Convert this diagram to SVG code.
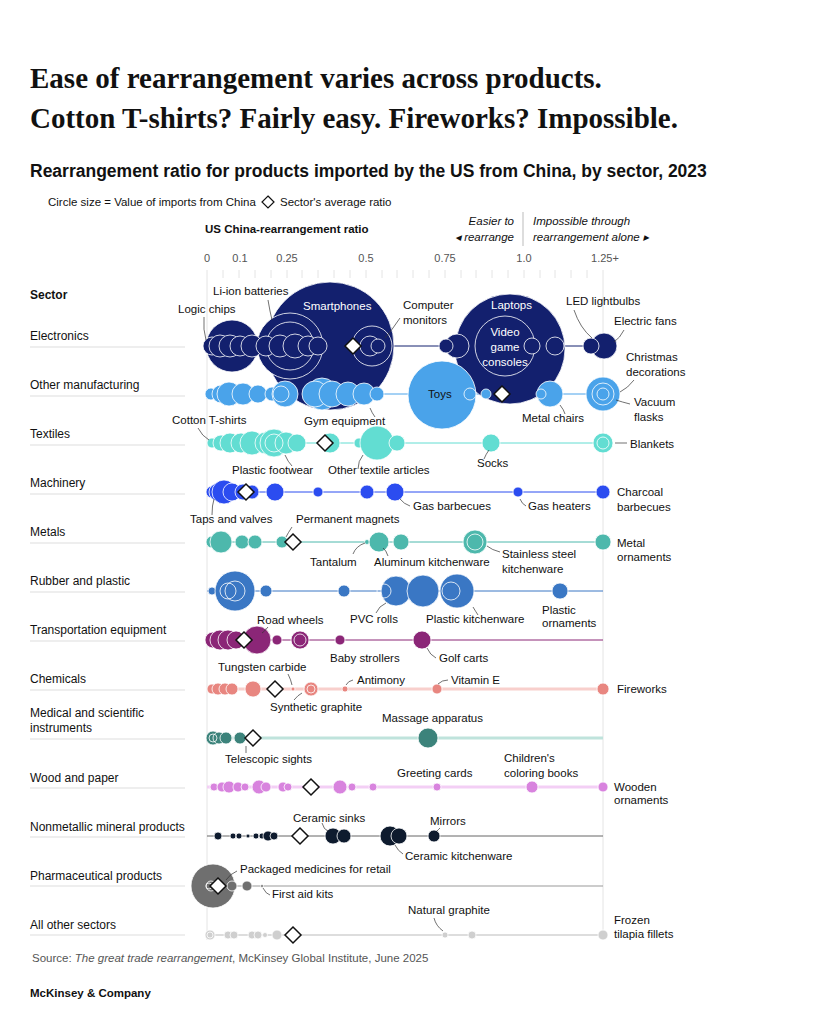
<svg xmlns="http://www.w3.org/2000/svg" width="819" height="1024" viewBox="0 0 819 1024">
<style>
text{font-family:"Liberation Sans",Arial,sans-serif;fill:#111;font-size:11.5px}
.t{font-family:"Liberation Serif","Times New Roman",serif;font-weight:bold;font-size:29px}
.s{font-weight:bold;font-size:17.5px}
.sec{font-size:12px}
.ax{font-size:11px;fill:#555}
.i{font-style:italic;font-size:11.5px}
.ld{stroke:#333;stroke-width:0.7;fill:none}
circle{stroke:#fff;stroke-width:0.8}
.sep{stroke:#ddd;stroke-width:1}
.d{fill:#fff;stroke:#111;stroke-width:1.5}
.e{fill:#13206e}.o{fill:#4aa3ea}.tx{fill:#62ddd2}.m{fill:#2b4cf0}.me{fill:#4db8ac}.r{fill:#3a77c4}.tr{fill:#8b2677}.c{fill:#e88680}.md{fill:#3c837b}.w{fill:#d883de}.n{fill:#0e1b2e}.p{fill:#6f6f6f}.a{fill:#cfcfcf}
.ring{fill:none;stroke:#fff;stroke-width:0.8}
</style>
<rect width="819" height="1024" fill="#fff"/>
<text class="t" x="30" y="88">Ease of rearrangement varies across products.</text>
<text class="t" x="30" y="128">Cotton T-shirts? Fairly easy. Fireworks? Impossible.</text>
<text class="s" x="30" y="177">Rearrangement ratio for products imported by the US from China, by sector, 2023</text>
<circle cx="37" cy="202" r="6" fill="none" stroke="#555" stroke-dasharray="1.5 1.5"/>
<text x="48" y="206" font-size="11">Circle size = Value of imports from China</text>
<polygon points="268,196 274,202 268,208 262,202" class="d" style="stroke-width:1.2"/>
<text x="280" y="206" font-size="11">Sector's average ratio</text>
<text x="205" y="233" font-weight="bold" font-size="12">US China-rearrangement ratio</text>
<text class="i" x="514" y="225" text-anchor="end">Easier to</text>
<text class="i" x="514" y="241" text-anchor="end">◂ rearrange</text>
<line x1="523" y1="212" x2="523" y2="246" stroke="#bbb"/>
<text class="i" x="533" y="225">Impossible through</text>
<text class="i" x="533" y="241">rearrangement alone ▸</text>
<g class="ax">
<text x="207" y="262" text-anchor="middle" class="ax">0</text>
<text x="240" y="262" text-anchor="middle" class="ax">0.1</text>
<text x="287" y="262" text-anchor="middle" class="ax">0.25</text>
<text x="366" y="262" text-anchor="middle" class="ax">0.5</text>
<text x="445" y="262" text-anchor="middle" class="ax">0.75</text>
<text x="524" y="262" text-anchor="middle" class="ax">1.0</text>
<text x="605" y="262" text-anchor="middle" class="ax">1.25+</text>
</g>
<g stroke="#ddd" stroke-width="0.8">
<line x1="207" y1="270" x2="207" y2="940"/><line x1="603" y1="270" x2="603" y2="940"/>
<path d="M223 270v8M239 270v8M255 270v8M271 270v8M287 270v8M302 270v8M318 270v8M334 270v8M350 270v8M366 270v8M382 270v8M397 270v8M413 270v8M429 270v8M445 270v8M461 270v8M476 270v8M492 270v8M508 270v8M524 270v8M540 270v8M555 270v8M571 270v8M587 270v8"/>
</g>
<g id="sectors">
<text x="30" y="299" font-weight="bold" class="sec">Sector</text>
<text x="30" y="340" class="sec">Electronics</text><line class="sep" x1="30" y1="347" x2="185" y2="347"/>
<text x="30" y="389" class="sec">Other manufacturing</text><line class="sep" x1="30" y1="396" x2="185" y2="396"/>
<text x="30" y="438" class="sec">Textiles</text><line class="sep" x1="30" y1="445" x2="185" y2="445"/>
<text x="30" y="487" class="sec">Machinery</text><line class="sep" x1="30" y1="494" x2="185" y2="494"/>
<text x="30" y="536" class="sec">Metals</text><line class="sep" x1="30" y1="543" x2="185" y2="543"/>
<text x="30" y="585" class="sec">Rubber and plastic</text><line class="sep" x1="30" y1="592" x2="185" y2="592"/>
<text x="30" y="634" class="sec">Transportation equipment</text><line class="sep" x1="30" y1="641" x2="185" y2="641"/>
<text x="30" y="683" class="sec">Chemicals</text><line class="sep" x1="30" y1="690" x2="185" y2="690"/>
<text x="30" y="717" class="sec">Medical and scientific</text>
<text x="30" y="732" class="sec">instruments</text><line class="sep" x1="30" y1="739" x2="185" y2="739"/>
<text x="30" y="782" class="sec">Wood and paper</text><line class="sep" x1="30" y1="788" x2="185" y2="788"/>
<text x="30" y="831" class="sec">Nonmetallic mineral products</text><line class="sep" x1="30" y1="837" x2="185" y2="837"/>
<text x="30" y="880" class="sec">Pharmaceutical products</text><line class="sep" x1="30" y1="886" x2="185" y2="886"/>
<text x="30" y="929" class="sec">All other sectors</text><line class="sep" x1="30" y1="935" x2="185" y2="935"/>
</g>
<g id="connectors">
<line x1="207" y1="346" x2="603" y2="346" stroke="#13206e"/>
<line x1="207" y1="394" x2="603" y2="394" stroke="#4aa3ea"/>
<line x1="207" y1="443" x2="603" y2="443" stroke="#62ddd2"/>
<line x1="207" y1="492" x2="603" y2="492" stroke="#2b4cf0"/>
<line x1="207" y1="542" x2="603" y2="542" stroke="#4db8ac"/>
<line x1="207" y1="591" x2="603" y2="591" stroke="#3a77c4"/>
<line x1="207" y1="640" x2="603" y2="640" stroke="#8b2677"/>
<line x1="207" y1="689" x2="603" y2="689" stroke="#f8cfcc" stroke-width="3"/>
<line x1="207" y1="738" x2="603" y2="738" stroke="#bfe3dc" stroke-width="3"/>
<line x1="207" y1="787" x2="603" y2="787" stroke="#f3cff5" stroke-width="3"/>
<line x1="207" y1="836" x2="603" y2="836" stroke="#666"/>
<line x1="207" y1="886" x2="603" y2="886" stroke="#999"/>
<line x1="207" y1="935" x2="603" y2="935" stroke="#ddd" stroke-width="2"/>
</g>
<g id="electronics">
<circle class="e" cx="330" cy="346" r="64"/>
<circle class="e" cx="510" cy="349" r="55"/>
<circle class="e" cx="290" cy="346" r="33"/>
<circle class="e" cx="232" cy="346" r="26"/>
<circle class="ring" cx="290" cy="346" r="24"/>
<circle class="ring" cx="372" cy="346" r="20"/>
<circle class="ring" cx="505" cy="346" r="30"/>
<circle class="e" cx="212" cy="346" r="9"/>
<circle class="e" cx="220" cy="346" r="11"/>
<circle class="e" cx="230" cy="346" r="11"/>
<circle class="e" cx="240" cy="346" r="10"/>
<circle class="e" cx="252" cy="346" r="11"/>
<circle class="e" cx="266" cy="346" r="10"/>
<circle class="e" cx="280" cy="346" r="11"/>
<circle class="e" cx="295" cy="346" r="12"/>
<circle class="e" cx="308" cy="346" r="10"/>
<circle class="e" cx="318" cy="346" r="9"/>
<circle class="e" cx="370" cy="346" r="10"/>
<circle class="e" cx="378" cy="346" r="7"/>
<circle class="e" cx="457" cy="346" r="12"/>
<circle class="e" cx="446" cy="346" r="7"/>
<circle class="e" cx="532" cy="346" r="8"/>
<circle class="e" cx="555" cy="346" r="9"/>
<circle class="e" cx="604" cy="346" r="13"/>
<circle class="e" cx="591" cy="346" r="8"/>
<polygon class="d" points="353,338 361,346 353,354 345,346"/>
<text x="178" y="313">Logic chips</text><path class="ld" d="M204 317 Q 203 330 206 340"/>
<text x="213" y="295">Li-ion batteries</text><path class="ld" d="M268 300 Q 270 312 272 320"/>
<text x="303" y="310" fill="#fff" style="fill:#fff">Smartphones</text>
<text x="403" y="309">Computer</text><text x="403" y="324">monitors</text><path class="ld" d="M400 318 Q 392 330 385 338"/>
<text x="491" y="309" style="fill:#fff">Laptops</text>
<text x="505" y="336" text-anchor="middle" style="fill:#fff">Video</text>
<text x="505" y="351" text-anchor="middle" style="fill:#fff">game</text>
<text x="505" y="366" text-anchor="middle" style="fill:#fff">consoles</text>
<text x="566" y="305">LED lightbulbs</text><path class="ld" d="M574 310 Q 580 328 592 338"/>
<text x="614" y="325">Electric fans</text><path class="ld" d="M624 330 Q 620 338 614 342"/>
</g>
<g id="other-manufacturing">
<circle class="o" cx="442" cy="395" r="34"/>
<circle class="o" cx="211" cy="394" r="6"/>
<circle class="o" cx="221" cy="394" r="9"/>
<circle class="o" cx="229" cy="394" r="12"/>
<circle class="o" cx="243" cy="394" r="11"/>
<circle class="o" cx="258" cy="394" r="9"/>
<circle class="o" cx="272" cy="394" r="7"/>
<circle class="o" cx="285" cy="394" r="13"/>
<circle class="o" cx="281" cy="394" r="8"/>
<circle class="o" cx="322" cy="394" r="16"/>
<circle class="o" cx="315" cy="394" r="13"/>
<circle class="o" cx="332" cy="394" r="13"/>
<circle class="o" cx="348" cy="394" r="12"/>
<circle class="o" cx="364" cy="394" r="11"/>
<circle class="o" cx="377" cy="394" r="7"/>
<circle class="o" cx="470" cy="394" r="6"/>
<circle class="o" cx="486" cy="394" r="5"/>
<circle class="o" cx="550" cy="394" r="13"/>
<circle class="o" cx="541" cy="394" r="5"/>
<circle class="o" cx="603" cy="394" r="17"/>
<circle class="ring" cx="603" cy="394" r="11"/><circle class="ring" cx="603" cy="394" r="6"/>
<polygon class="d" points="502,386 510,394 502,402 494,394"/>
<text x="428" y="398">Toys</text>
<text x="304" y="425">Gym equipment</text><path class="ld" d="M370 408 Q 372 413 375 417"/>
<text x="522" y="422">Metal chairs</text><path class="ld" d="M560 405 Q 564 410 565 414"/>
<text x="626" y="361">Christmas</text><text x="626" y="376">decorations</text><path class="ld" d="M634 380 Q 628 388 620 392"/>
<text x="634" y="406">Vacuum</text><text x="634" y="421">flasks</text><path class="ld" d="M630 404 Q 622 402 616 400"/>
</g>
<g id="textiles">
<circle class="tx" cx="212" cy="443" r="5"/>
<circle class="tx" cx="221" cy="443" r="8"/>
<circle class="tx" cx="230" cy="443" r="10"/>
<circle class="tx" cx="241" cy="443" r="10"/>
<circle class="tx" cx="252" cy="443" r="12"/>
<circle class="tx" cx="266" cy="443" r="11"/>
<circle class="tx" cx="274" cy="443" r="14"/>
<circle class="tx" cx="286" cy="443" r="11"/>
<circle class="tx" cx="297" cy="443" r="9"/>
<circle class="tx" cx="330" cy="443" r="10"/>
<circle class="tx" cx="359" cy="443" r="5"/>
<circle class="tx" cx="377" cy="443" r="17"/>
<circle class="tx" cx="397" cy="443" r="8"/>
<circle class="tx" cx="491" cy="443" r="9"/>
<circle class="tx" cx="603" cy="443" r="10"/>
<circle class="ring" cx="603" cy="443" r="6"/><circle class="ring" cx="274" cy="443" r="9"/>
<polygon class="d" points="325,435 333,443 325,451 317,443"/>
<text x="172" y="424">Cotton T-shirts</text><path class="ld" d="M198 428 Q 202 436 209 440"/>
<text x="232" y="474">Plastic footwear</text><path class="ld" d="M285 455 Q 288 462 292 466"/>
<text x="328" y="474">Other textile articles</text><path class="ld" d="M358 469 Q 358 461 363 455"/>
<text x="477" y="467">Socks</text><path class="ld" d="M484 459 Q 486 454 489 450"/>
<text x="630" y="448">Blankets</text><line class="ld" x1="615" y1="443" x2="627" y2="443"/>
</g>
<g id="machinery">
<circle class="m" cx="212" cy="492" r="6"/>
<circle class="m" cx="218" cy="492" r="9"/>
<circle class="m" cx="224" cy="492" r="12"/>
<circle class="m" cx="232" cy="492" r="9"/>
<circle class="m" cx="243" cy="492" r="8"/>
<circle class="m" cx="252" cy="492" r="7"/>
<circle class="m" cx="275" cy="492" r="9"/>
<circle class="m" cx="318" cy="492" r="5"/>
<circle class="m" cx="367" cy="492" r="7"/>
<circle class="m" cx="395" cy="492" r="9"/>
<circle class="m" cx="518" cy="492" r="5"/>
<circle class="m" cx="603" cy="492" r="7"/>
<polygon class="d" points="246,484 254,492 246,500 238,492"/>
<text x="413" y="510">Gas barbecues</text><path class="ld" d="M400 499 Q 404 504 410 506"/>
<text x="528" y="510">Gas heaters</text><path class="ld" d="M520 499 Q 522 504 526 506"/>
<text x="617" y="496">Charcoal</text><text x="617" y="511">barbecues</text>
<text x="190" y="523">Taps and valves</text><path class="ld" d="M212 515 Q 212 505 214 499"/>
</g>
<g id="metals">
<circle class="me" cx="212" cy="542" r="6"/>
<circle class="me" cx="221" cy="542" r="11"/>
<circle class="me" cx="242" cy="542" r="7"/>
<circle class="me" cx="255" cy="542" r="7"/>
<circle class="me" cx="282" cy="542" r="6"/>
<circle class="me" cx="367" cy="542" r="2.5"/>
<circle class="me" cx="379" cy="542" r="10"/>
<circle class="me" cx="401" cy="542" r="8"/>
<circle class="me" cx="475" cy="542" r="12"/>
<circle class="ring" cx="475" cy="542" r="8"/>
<circle class="me" cx="603" cy="542" r="8"/>
<polygon class="d" points="293,534 301,542 293,550 285,542"/>
<text x="296" y="523">Permanent magnets</text><path class="ld" d="M292 527 Q 288 533 286 537"/>
<text x="310" y="566">Tantalum</text><path class="ld" d="M353 554 Q 356 546 365 543"/>
<text x="374" y="566">Aluminum kitchenware</text><path class="ld" d="M388 556 Q 386 550 383 548"/>
<text x="502" y="558">Stainless steel</text><text x="502" y="573">kitchenware</text><path class="ld" d="M487 546 Q 492 550 500 552"/>
<text x="617" y="547">Metal</text><text x="617" y="561">ornaments</text>
</g>
<g id="rubber-and-plastic">
<circle class="r" cx="212" cy="591" r="4"/>
<circle class="r" cx="222" cy="591" r="6"/>
<circle class="r" cx="235" cy="591" r="20"/>
<circle class="ring" cx="228" cy="591" r="8"/><circle class="ring" cx="235" cy="591" r="10"/>
<circle class="r" cx="266" cy="591" r="6"/>
<circle class="r" cx="344" cy="591" r="6"/>
<circle class="r" cx="396" cy="591" r="15"/>
<circle class="ring" cx="384" cy="591" r="7"/>
<circle class="r" cx="423" cy="591" r="16"/>
<circle class="r" cx="457" cy="591" r="17"/>
<circle class="ring" cx="451" cy="591" r="9"/>
<circle class="r" cx="560" cy="591" r="8"/>
<text x="350" y="623">PVC rolls</text><path class="ld" d="M376 613 Q 379 606 386 603"/>
<text x="426" y="623">Plastic kitchenware</text><path class="ld" d="M473 607 Q 476 612 478 615"/>
<text x="542" y="614">Plastic</text><text x="542" y="627">ornaments</text>
</g>
<g id="transportation-equipment">
<circle class="tr" cx="213" cy="640" r="8"/>
<circle class="tr" cx="220" cy="640" r="10"/>
<circle class="tr" cx="228" cy="640" r="10"/>
<circle class="tr" cx="236" cy="640" r="9"/>
<circle class="tr" cx="257" cy="640" r="14"/>
<circle class="tr" cx="277" cy="640" r="5"/>
<circle class="tr" cx="300" cy="640" r="9"/>
<circle class="ring" cx="300" cy="640" r="6"/>
<circle class="tr" cx="340" cy="640" r="5"/>
<circle class="tr" cx="422" cy="640" r="9"/>
<polygon class="d" points="244,632 252,640 244,648 236,640"/>
<text x="257" y="624">Road wheels</text><path class="ld" d="M268 627 Q 264 632 262 633"/>
<text x="330" y="662">Baby strollers</text>
<text x="439" y="662">Golf carts</text><path class="ld" d="M427 648 Q 430 655 436 658"/>
</g>
<g id="chemicals">
<circle class="c" cx="212" cy="689" r="5"/>
<circle class="c" cx="218" cy="689" r="6"/>
<circle class="c" cx="225" cy="689" r="6"/>
<circle class="c" cx="232" cy="689" r="6"/>
<circle class="c" cx="253" cy="689" r="8"/>
<circle class="c" cx="293" cy="689" r="2"/>
<circle class="c" cx="311" cy="689" r="7"/>
<circle class="ring" cx="311" cy="689" r="4"/>
<circle class="c" cx="345" cy="689" r="3"/>
<circle class="c" cx="437" cy="689" r="5"/>
<circle class="c" cx="603" cy="689" r="6"/>
<polygon class="d" points="275,681 283,689 275,697 267,689"/>
<text x="218" y="671">Tungsten carbide</text><path class="ld" d="M288 674 Q 291 680 292 685"/>
<text x="270" y="711">Synthetic graphite</text><path class="ld" d="M294 700 Q 298 695 302 693"/>
<text x="357" y="684">Antimony</text><path class="ld" d="M346 685 Q 348 681 353 680"/>
<text x="451" y="684">Vitamin E</text><path class="ld" d="M438 684 Q 442 680 448 680"/>
<text x="617" y="693">Fireworks</text>
</g>
<g id="medical">
<circle class="md" cx="213" cy="738" r="7"/>
<circle class="md" cx="219" cy="738" r="6"/>
<circle class="md" cx="226" cy="738" r="6"/>
<circle class="md" cx="240" cy="738" r="6"/>
<circle class="ring" cx="213" cy="738" r="4"/>
<circle class="md" cx="428" cy="738" r="10"/>
<polygon class="d" points="253,730 261,738 253,746 245,738"/>
<text x="382" y="722">Massage apparatus</text>
<text x="225" y="763">Telescopic sights</text><line class="ld" x1="246" y1="746" x2="246" y2="753"/>
</g>
<g id="wood-and-paper">
<circle class="w" cx="214" cy="787" r="4"/>
<circle class="w" cx="222" cy="787" r="5"/>
<circle class="w" cx="229" cy="787" r="6"/>
<circle class="w" cx="238" cy="787" r="5"/>
<circle class="w" cx="245" cy="787" r="4"/>
<circle class="w" cx="259" cy="787" r="7"/>
<circle class="w" cx="266" cy="787" r="5"/>
<circle class="w" cx="283" cy="787" r="5"/>
<circle class="w" cx="288" cy="787" r="4"/>
<circle class="w" cx="340" cy="787" r="7"/>
<circle class="w" cx="352" cy="787" r="4"/>
<circle class="w" cx="373" cy="787" r="4"/>
<circle class="w" cx="437" cy="787" r="4"/>
<circle class="w" cx="532" cy="787" r="6"/>
<circle class="w" cx="603" cy="787" r="5"/>
<polygon class="d" points="311,779 319,787 311,795 303,787"/>
<text x="397" y="777">Greeting cards</text>
<text x="504" y="762">Children's</text><text x="504" y="777">coloring books</text>
<text x="614" y="791">Wooden</text><text x="614" y="804">ornaments</text>
</g>
<g id="nonmetallic">
<circle class="n" cx="218" cy="836" r="4"/>
<circle class="n" cx="233" cy="836" r="3"/>
<circle class="n" cx="239" cy="836" r="3"/>
<circle class="n" cx="248" cy="836" r="2"/>
<circle class="n" cx="256" cy="836" r="3"/>
<circle class="n" cx="262" cy="836" r="3"/>
<circle class="n" cx="268" cy="836" r="5"/>
<circle class="n" cx="274" cy="836" r="4"/>
<circle class="n" cx="333" cy="836" r="8"/>
<circle class="n" cx="344" cy="836" r="7"/>
<circle class="n" cx="390" cy="836" r="10"/>
<circle class="n" cx="399" cy="836" r="8"/>
<circle class="n" cx="434" cy="836" r="6"/>
<polygon class="d" points="300,828 308,836 300,844 292,836"/>
<text x="293" y="822">Ceramic sinks</text><path class="ld" d="M322 823 Q 324 830 328 831"/>
<text x="430" y="825">Mirrors</text><path class="ld" d="M440 828 Q 438 830 437 831"/>
<text x="405" y="860">Ceramic kitchenware</text><path class="ld" d="M395 845 Q 398 851 403 854"/>
</g>
<g id="pharmaceutical">
<circle class="p" cx="213" cy="886" r="22"/>
<circle class="ring" cx="211" cy="886" r="5"/><circle class="ring" cx="209" cy="886" r="3"/>
<circle class="p" cx="232" cy="886" r="5"/>
<circle class="p" cx="247" cy="886" r="5"/>
<circle class="p" cx="262" cy="886" r="1.5"/>
<polygon class="d" points="218,878 226,886 218,894 210,886"/>
<text x="240" y="873">Packaged medicines for retail</text><path class="ld" d="M226 880 Q 230 874 237 871"/>
<text x="272" y="898">First aid kits</text><path class="ld" d="M263 888 Q 266 894 270 895"/>
</g>
<g id="all-other">
<circle class="a" cx="210" cy="935" r="5"/>
<circle class="ring" cx="210" cy="935" r="3"/>
<circle class="a" cx="228" cy="935" r="4"/>
<circle class="a" cx="234" cy="935" r="4"/>
<circle class="a" cx="252" cy="935" r="4"/>
<circle class="a" cx="258" cy="935" r="4"/>
<circle class="a" cx="265" cy="935" r="2.5"/>
<circle class="a" cx="277" cy="935" r="5"/>
<circle class="a" cx="445" cy="935" r="3"/>
<circle class="a" cx="472" cy="935" r="4"/>
<circle class="a" cx="603" cy="935" r="5"/>
<polygon class="d" points="293,927 301,935 293,943 285,935"/>
<text x="408" y="914">Natural graphite</text><path class="ld" d="M434 918 Q 436 926 443 931"/>
<text x="614" y="924">Frozen</text><text x="614" y="938">tilapia fillets</text>
</g>
<text x="32" y="962" font-size="10" style="fill:#555">Source: <tspan font-style="italic">The great trade rearrangement</tspan>, McKinsey Global Institute,  June 2025</text>
<text x="30" y="997" font-size="13" font-weight="bold" style="fill:#111">McKinsey &amp; Company</text>
</svg>
